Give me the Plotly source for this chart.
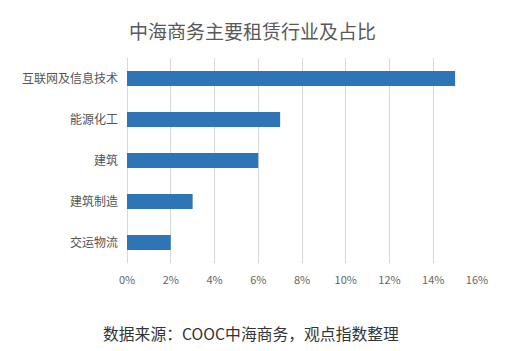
import plotly.graph_objects as go

categories = ["互联网及信息技术", "能源化工", "建筑", "建筑制造", "交运物流"]
shares = [0.15, 0.07, 0.06, 0.03, 0.02]
title_text = "中海商务主要租赁行业及占比"
source_text = "数据来源：COOC中海商务，观点指数整理"

FONT = "Noto Sans CJK SC"

fig = go.Figure(go.Bar(
    x=shares, y=categories, orientation="h",
    marker=dict(color="#2E75B6", line=dict(width=0)),
    width=0.37,
))

L, R, T, B = 126.7, 41.3, 58, 88
H = 351 - T - B
W = 518 - L - R

fig.update_layout(
    width=518, height=351,
    margin=dict(l=L, r=R, t=T, b=B, pad=0),
    paper_bgcolor="white", plot_bgcolor="white",
    showlegend=False,
    font=dict(family=FONT, color="#595959"),
    xaxis=dict(range=[0, 0.16], dtick=0.02, tickformat=".0%",
               showgrid=True, gridcolor="#D9D9D9", gridwidth=1,
               zeroline=True, zerolinecolor="#D9D9D9", zerolinewidth=1,
               showline=False, ticks="", ticklabelstandoff=9,
               tickfont=dict(size=11, color="#666666"),
               fixedrange=True),
    yaxis=dict(categoryorder="array", categoryarray=categories, autorange="reversed",
               showgrid=False, zeroline=False, showline=False, ticks="",
               ticklabelstandoff=8,
               tickfont=dict(size=12, color="#555555"), fixedrange=True),
    annotations=[
        dict(text=title_text, xref="paper", yref="paper",
             x=(252.5 - L) / W, y=(351 - B - 30) / H, xanchor="center", yanchor="middle",
             showarrow=False, font=dict(size=19, color="#595959", family=FONT)),
        dict(text=source_text, xref="paper", yref="paper",
             x=(251 - L) / W, y=(351 - B - 333) / H, xanchor="center", yanchor="middle",
             showarrow=False, font=dict(size=15.8, color="#333333", family=FONT)),
    ],
)

fig.write_html("out.html")
